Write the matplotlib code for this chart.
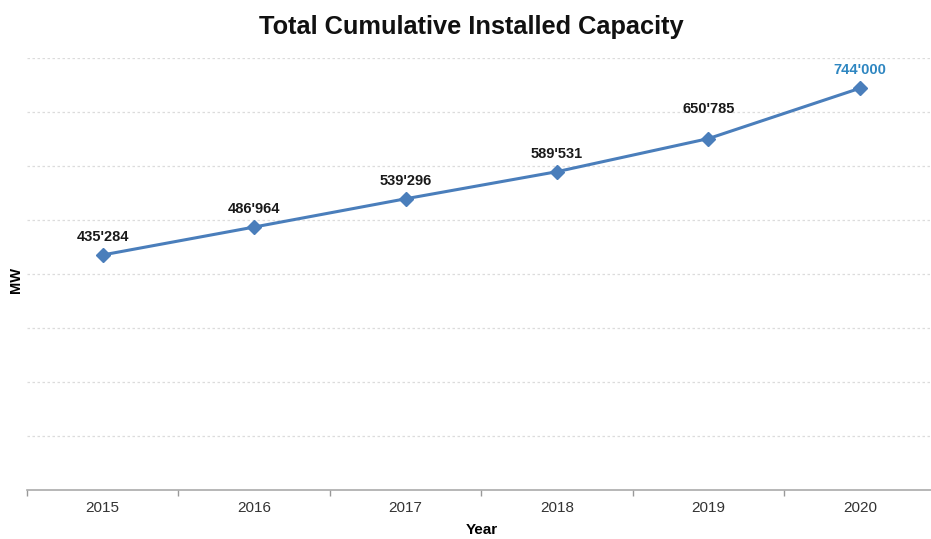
import matplotlib.pyplot as plt
import numpy as np

plt.rcParams['font.family'] = ['Liberation Sans', 'DejaVu Sans']

years = ['2015', '2016', '2017', '2018', '2019', '2020']
capacity = [435284, 486964, 539296, 589531, 650785, 744000]
labels = ["435'284", "486'964", "539'296", "589'531", "650'785", "744'000"]
label_colors = ['#1a1a1a'] * 5 + ['#2e86c1']
label_offsets = [8, 8, 8, 8, 16, 8]  # points above marker

LINE = '#4a7ebb'

fig = plt.figure(figsize=(9.31, 5.39), dpi=100)
ax = fig.add_axes([0.029, 0.0909, 0.976, 0.8015])

x = np.arange(len(years))
ax.plot(x, capacity, color=LINE, lw=2.2, marker='D', ms=7, mfc=LINE, mec=LINE, zorder=3)
for xi, v, lab, c, off in zip(x, capacity, labels, label_colors, label_offsets):
    ax.annotate(lab, (xi, v), xytext=(0, off), textcoords='offset points',
                ha='center', va='bottom', fontsize=10.5, fontweight='bold', color=c)

ax.set_xlim(-0.5, len(years) - 0.5)
ax.set_ylim(0, 800000)
ax.set_yticks(np.arange(100000, 800001, 100000))
ax.yaxis.grid(True, color='#dcdcdc', ls=(0, (2, 2)), lw=0.9)
ax.tick_params(axis='y', left=False, labelleft=False)
ax.set_xticks(x)
ax.set_xticklabels(years, fontsize=11, color='#333333')
ax.set_xticks(np.arange(-0.5, len(years)), minor=True)
ax.tick_params(axis='x', which='major', length=0, pad=8)
ax.tick_params(axis='x', which='minor', length=4, color='#999999', width=1)
for s in ['top', 'right', 'left']:
    ax.spines[s].set_visible(False)
ax.spines['bottom'].set_color('#aaaaaa')
ax.spines['bottom'].set_linewidth(1.2)
ax.set_axisbelow(True)

ax.set_xlabel('Year', fontsize=11, fontweight='bold', labelpad=6)
fig.text(0.017, 0.48, 'MW', rotation=90, ha='center', va='center',
         fontsize=10.5, fontweight='bold')
fig.suptitle('Total Cumulative Installed Capacity', x=0.506, y=0.972,
             fontsize=18.3, fontweight='bold', color='#111111')

fig.savefig('out.png', dpi=100)
